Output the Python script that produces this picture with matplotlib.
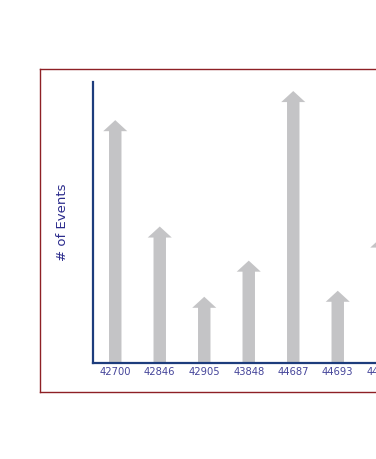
import matplotlib
matplotlib.use('Agg')
import matplotlib.pyplot as plt

# event ids and counts (last category is cut off at the right edge)
categories = ['42700', '42846', '42905', '43848', '44687', '44693', '44701']
counts = [24.2, 13.6, 6.6, 10.2, 27.1, 7.2, 12.6]

W, H = 376, 460
fig = plt.figure(figsize=(W / 100, H / 100), dpi=100)
fig.patch.set_facecolor('white')

# dark red frame round the chart, running past the right edge
frame = fig.add_axes([40 / W, (H - 393) / H, 1.0, 323 / H])
frame.set_xticks([])
frame.set_yticks([])
for s in frame.spines.values():
    s.set_color('#8e2025')
    s.set_linewidth(1.0)
frame.patch.set_alpha(0)

# plot area: 44.5 px per category, first one 23 px right of the y axis
left, bottom, top = 93, 364, 83
ax = fig.add_axes([left / W, (H - bottom) / H, 8 * 44.5 / W, (bottom - top) / H])
ax.patch.set_alpha(0)
ax.set_xlim(-0.5, 7.5)
ax.set_ylim(0, 28)

for i, v in enumerate(counts):
    ax.arrow(i, 0, 0, v, width=0.28, head_width=0.54, head_length=1.1,
             length_includes_head=True, color='#c4c4c6', lw=0)

ax.set_xticks(range(len(categories)))
ax.set_xticklabels(categories, fontsize=7.2, color='#45459a')
ax.tick_params(axis='x', length=0, pad=2)
ax.set_yticks([])
for side in ('top', 'right'):
    ax.spines[side].set_visible(False)
for side in ('left', 'bottom'):
    ax.spines[side].set_color('#1d3c7c')
    ax.spines[side].set_linewidth(1.6)

fig.text(63 / W, 1 - 222 / H, '# of Events', rotation=90, fontsize=9.5,
         color='#2b2b8c', ha='center', va='center')

fig.savefig('out.png', dpi=100)
